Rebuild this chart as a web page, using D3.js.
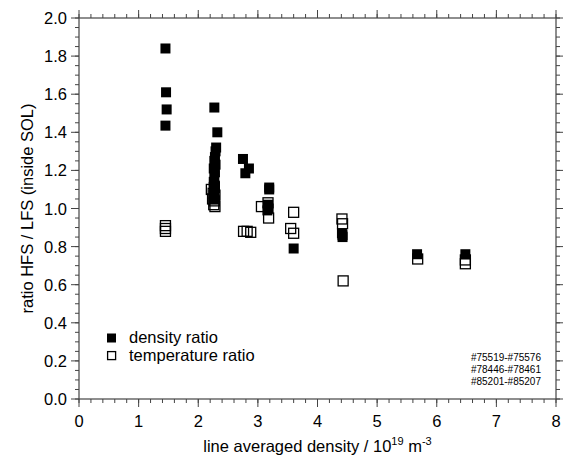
<!DOCTYPE html>
<html>
    <head>
        <script type="text/javascript" src="https://cdn.jsdelivr.net/npm/d3@7"></script>
        <style type="text/css">
            body { margin: 0; background: white; }
            text {
                font-family: "Liberation Sans", Arial, sans-serif;
                fill: black;
            }
        </style>
    </head>
    <body>
        <script type="text/javascript">

            // density ratio (filled squares)
            var densX = [1.45, 1.46, 1.47, 1.45,
                         2.27, 2.32, 2.30, 2.29, 2.28, 2.27, 2.29, 2.26, 2.28, 2.27, 2.26, 2.28, 2.27, 2.26, 2.27,
                         2.75, 2.85, 2.79,
                         3.19, 3.19, 3.17, 3.18, 3.16,
                         3.60, 4.41, 4.42, 4.42, 5.67, 6.48];
            var densY = [1.84, 1.61, 1.52, 1.435,
                         1.53, 1.40, 1.32, 1.30, 1.27, 1.25, 1.23, 1.21, 1.19, 1.17, 1.14, 1.12, 1.09, 1.07, 1.05,
                         1.26, 1.21, 1.185,
                         1.11, 1.10, 1.02, 1.00, 0.99,
                         0.79, 0.87, 0.86, 0.85, 0.76, 0.76];

            // temperature ratio (open squares)
            var tempX = [1.45, 1.45, 1.45,
                         2.22, 2.27, 2.25, 2.28, 2.24, 2.27, 2.26, 2.28,
                         2.76, 2.82, 2.88,
                         3.06, 3.17, 3.18,
                         3.60, 3.55, 3.60,
                         4.41, 4.42, 4.43,
                         5.68, 6.48, 6.48];
            var tempY = [0.91, 0.895, 0.88,
                         1.10, 1.11, 1.08, 1.07, 1.05, 1.04, 1.02, 1.01,
                         0.88, 0.88, 0.875,
                         1.01, 1.03, 0.95,
                         0.98, 0.895, 0.87,
                         0.945, 0.92, 0.62,
                         0.735, 0.73, 0.71];

            var xTicks = [0, 1, 2, 3, 4, 5, 6, 7, 8];
            var yTicks = [0.0, 0.2, 0.4, 0.6, 0.8, 1.0, 1.2, 1.4, 1.6, 1.8, 2.0];
            var legendLabels = ["density ratio", "temperature ratio"];
            var shotLabels = ["#75519-#75576", "#78446-#78461", "#85201-#85207"];

            var w = 563, h = 456;
            var mLeft = 79, mRight = 556, mTop = 18, mBottom = 399;

            var x = d3.scaleLinear().domain([0, 8]).range([mLeft, mRight]);
            var y = d3.scaleLinear().domain([0, 2]).range([mBottom, mTop]);

            var svg = d3.select("body").append("svg")
                        .attr("width", w)
                        .attr("height", h);

            var axisColor = "#444";

            // frame
            svg.append("rect")
                .attr("x", mLeft).attr("y", mTop)
                .attr("width", mRight - mLeft).attr("height", mBottom - mTop)
                .attr("fill", "none").attr("stroke", axisColor).attr("stroke-width", 1.2);

            // minor ticks
            var xMinor = d3.range(0, 8.001, 0.2);
            var yMinor = d3.range(0, 2.001, 0.05);

            function drawX(g, ticks, len, sign, yy) {
                g.selectAll(null).data(ticks).enter().append("line")
                    .attr("x1", function(d) { return x(d); })
                    .attr("x2", function(d) { return x(d); })
                    .attr("y1", yy).attr("y2", yy + sign * len)
                    .attr("stroke", axisColor).attr("stroke-width", 1);
            }
            function drawY(g, ticks, len, sign, xx) {
                g.selectAll(null).data(ticks).enter().append("line")
                    .attr("y1", function(d) { return y(d); })
                    .attr("y2", function(d) { return y(d); })
                    .attr("x1", xx).attr("x2", xx + sign * len)
                    .attr("stroke", axisColor).attr("stroke-width", 1);
            }
            var tg = svg.append("g");
            drawX(tg, xMinor, 4, 1, mBottom);
            drawX(tg, xTicks, 8, 1, mBottom);
            drawX(tg, xMinor, 4, -1, mTop);
            drawX(tg, xTicks, 8, -1, mTop);
            drawY(tg, yMinor, 4, -1, mLeft);
            drawY(tg, yTicks, 8, -1, mLeft);
            drawY(tg, yMinor, 4, 1, mRight);
            drawY(tg, yTicks, 8, 1, mRight);

            // tick labels
            svg.selectAll("text.xl").data(xTicks).enter().append("text")
                .attr("class", "xl")
                .attr("x", function(d) { return x(d); })
                .attr("y", mBottom + 28)
                .attr("text-anchor", "middle")
                .style("font-size", "16.5px")
                .text(function(d) { return d; });

            svg.selectAll("text.yl").data(yTicks).enter().append("text")
                .attr("class", "yl")
                .attr("x", mLeft - 12)
                .attr("y", function(d) { return y(d) + 6; })
                .attr("text-anchor", "end")
                .style("font-size", "16.5px")
                .text(function(d) { return d.toFixed(1); });

            // axis titles
            var xt = svg.append("text")
                .attr("x", (mLeft + mRight) / 2)
                .attr("y", 452)
                .attr("text-anchor", "middle")
                .style("font-size", "16.5px");
            xt.append("tspan").text("line averaged density / 10");
            xt.append("tspan").attr("dy", -7).style("font-size", "11px").text("19");
            xt.append("tspan").attr("dy", 7).text(" m");
            xt.append("tspan").attr("dy", -7).style("font-size", "11px").text("-3");

            svg.append("text")
                .attr("transform", "translate(33," + ((mTop + mBottom) / 2) + ") rotate(-90)")
                .attr("text-anchor", "middle")
                .style("font-size", "16.5px")
                .text("ratio HFS / LFS (inside SOL)");

            // data
            var s = 10;
            var dens = densX.map(function(d, i) { return [d, densY[i]]; });
            var temp = tempX.map(function(d, i) { return [d, tempY[i]]; });

            svg.selectAll("rect.temp").data(temp).enter().append("rect")
                .attr("class", "temp")
                .attr("x", function(d) { return x(d[0]) - s / 2; })
                .attr("y", function(d) { return y(d[1]) - s / 2; })
                .attr("width", s).attr("height", s)
                .attr("fill", "none").attr("stroke", "black").attr("stroke-width", 1.3);

            svg.selectAll("rect.dens").data(dens).enter().append("rect")
                .attr("class", "dens")
                .attr("x", function(d) { return x(d[0]) - s / 2; })
                .attr("y", function(d) { return y(d[1]) - s / 2; })
                .attr("width", s).attr("height", s)
                .attr("fill", "black");

            // legend
            var lg = svg.append("g").attr("transform", "translate(107,338)");
            lg.append("rect").attr("x", 0).attr("y", -4.5).attr("width", 9).attr("height", 9).attr("fill", "black");
            lg.append("rect").attr("x", 0.6).attr("y", 13.6).attr("width", 8).attr("height", 8)
                .attr("fill", "none").attr("stroke", "black").attr("stroke-width", 1.3);
            lg.selectAll("text").data(legendLabels).enter().append("text")
                .attr("x", 22)
                .attr("y", function(d, i) { return 5 + i * 18; })
                .style("font-size", "16.5px")
                .text(function(d) { return d; });

            // shot numbers
            svg.selectAll("text.shot").data(shotLabels).enter().append("text")
                .attr("class", "shot")
                .attr("x", 541)
                .attr("y", function(d, i) { return 361 + i * 12; })
                .attr("text-anchor", "end")
                .style("font-size", "10px")
                .text(function(d) { return d; });

        </script>
    </body>
</html>
